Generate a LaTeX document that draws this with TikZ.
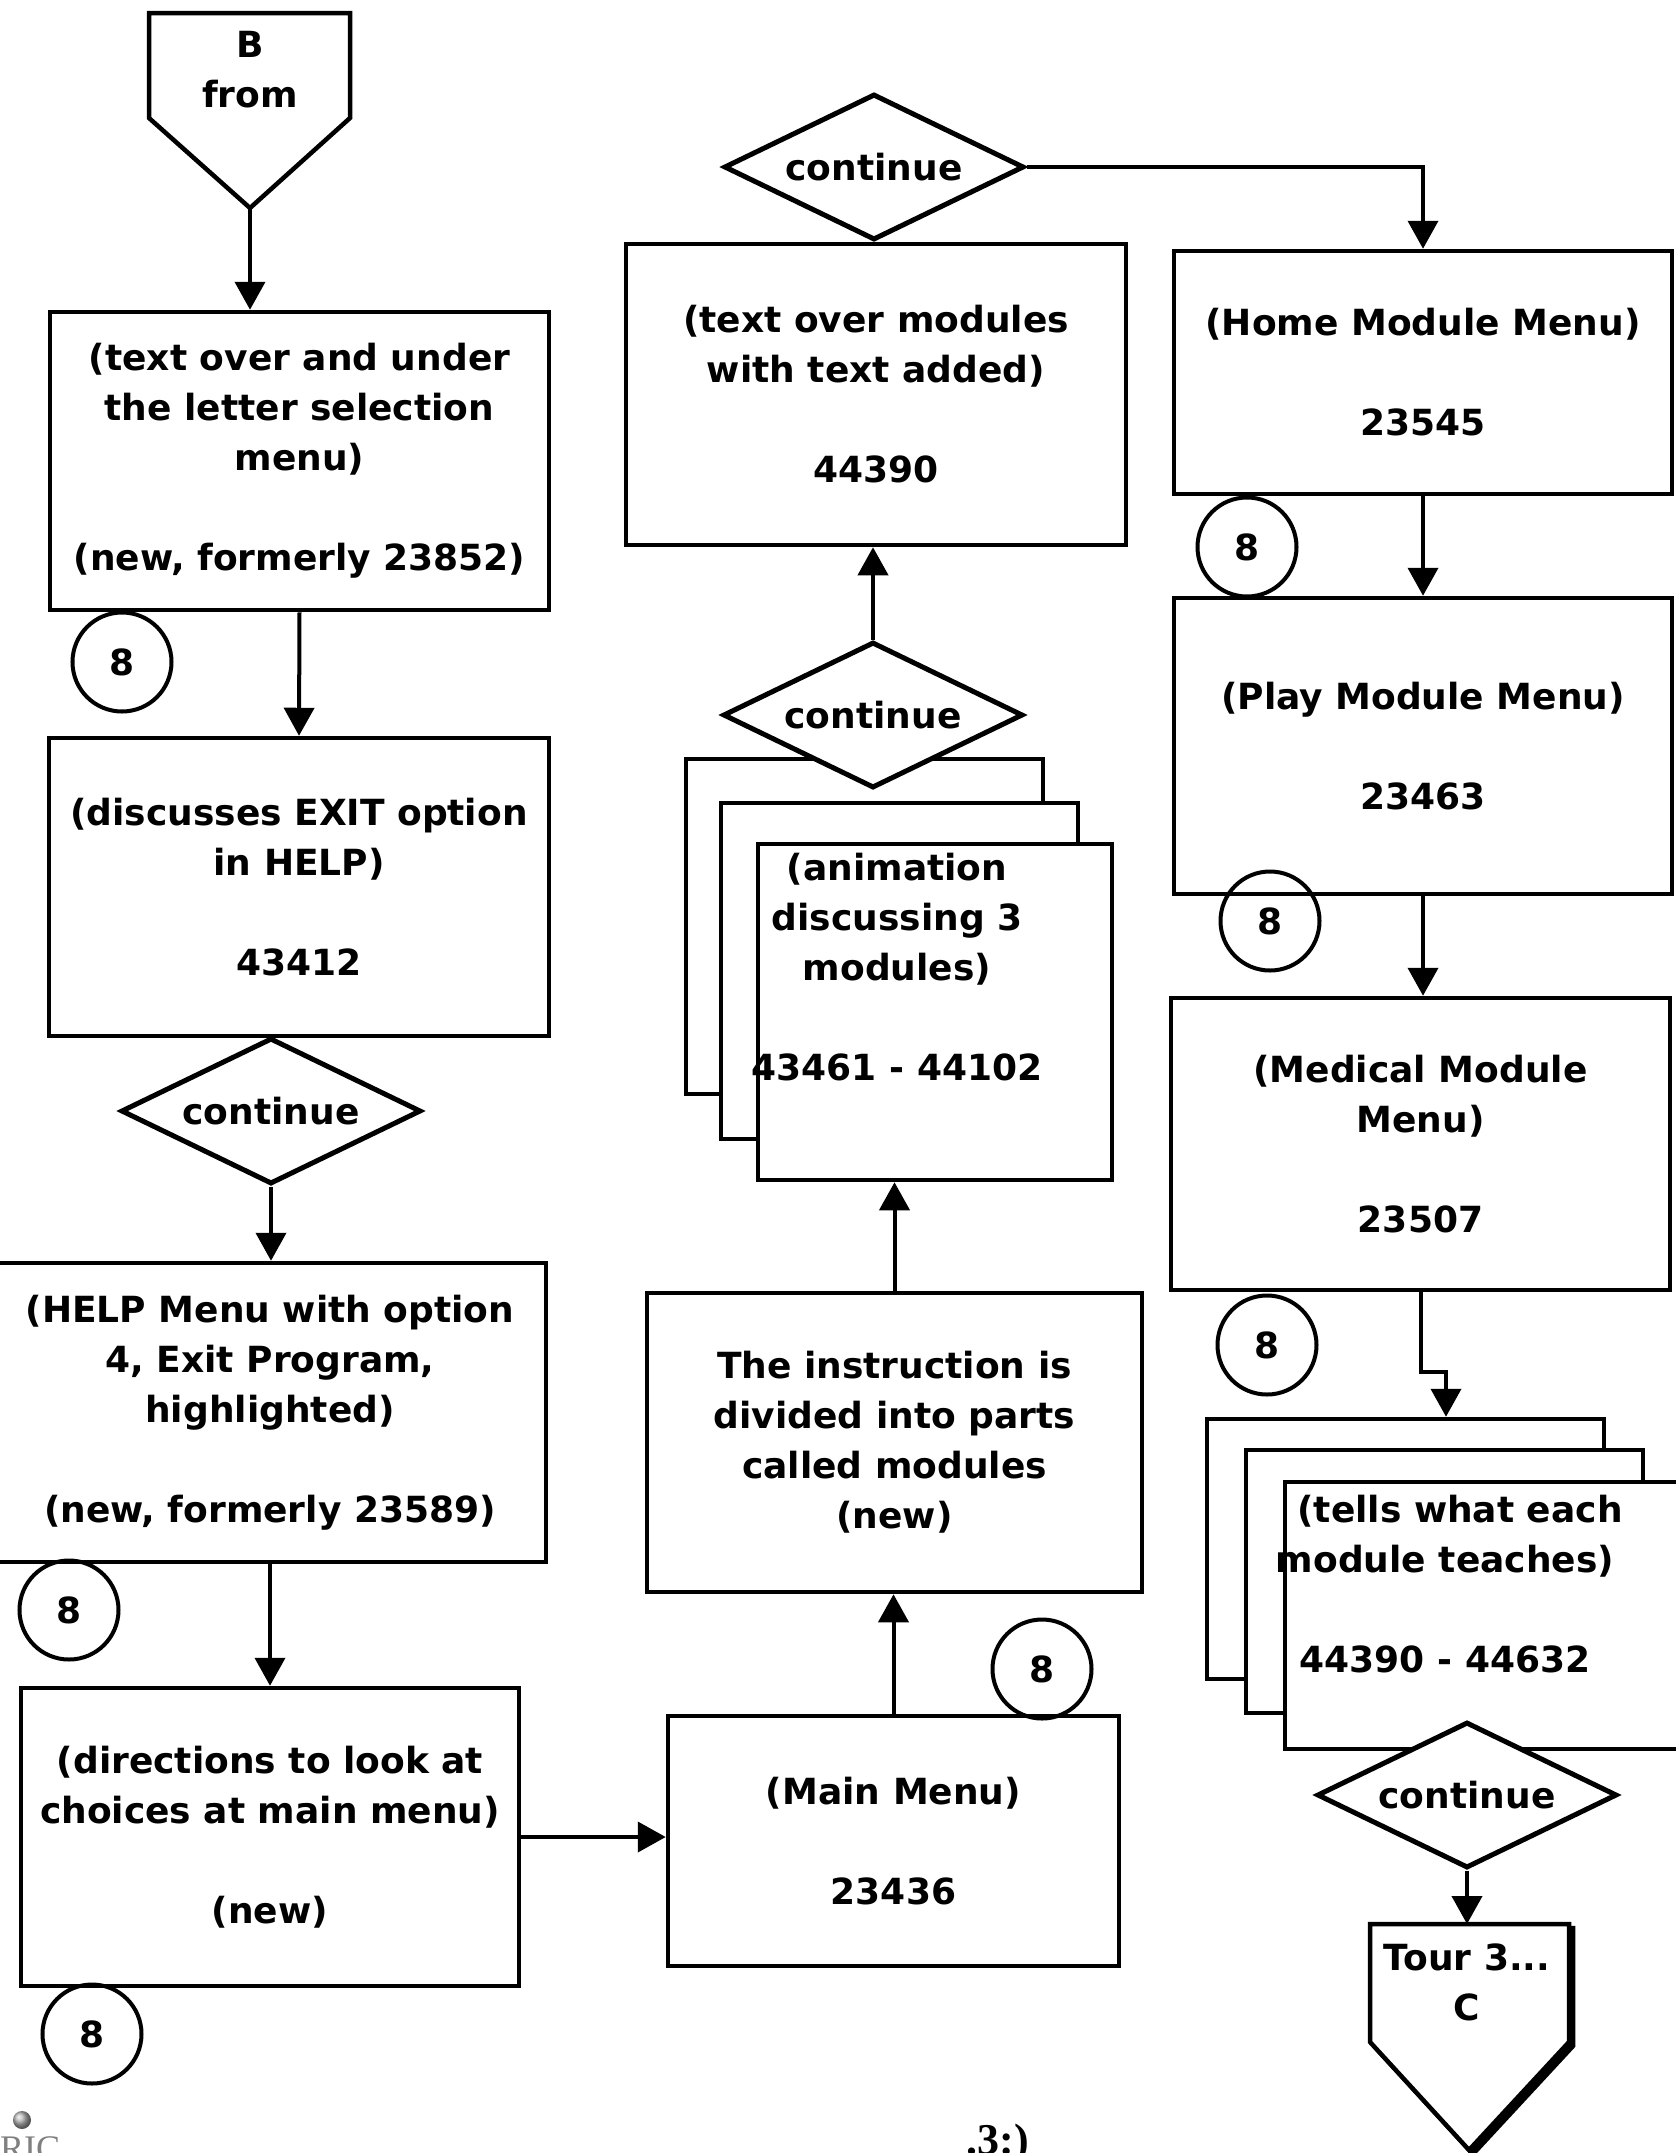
\documentclass[tikz,border=0pt]{standalone}
\usepackage{fontspec}
\setmainfont{DejaVu Sans}
\newfontfamily\pagefont{Liberation Serif}
\usetikzlibrary{arrows.meta,shapes.geometric,calc}

\newcommand\chartfont{\bfseries\fontsize{36}{50}\selectfont}

\tikzset{
  lbl/.style={font=\chartfont, align=center, inner sep=0pt},
  card/.style={draw, line width=4.5pt, fill=white, rectangle, inner sep=0pt,
               align=center, font=\chartfont},
  choice/.style={draw, diamond, aspect=2, line width=5pt, fill=white, inner sep=0pt,
                 minimum width=300pt, minimum height=146pt, font=\chartfont},
  ref8/.style={draw, circle, line width=4pt, minimum size=99pt, inner sep=0pt,
               font=\chartfont},
  flow/.style={line width=4pt, line join=miter, -{Triangle[length=28pt,width=30pt]}},
  outline/.style={line width=4.5pt, line join=miter}
}

\begin{document}
\begin{tikzpicture}[x=1pt,y=-1pt]
\useasboundingbox (0,0) rectangle (1676,2153);

% ---------- entry connector B ----------
\draw[outline, fill=white] (149,13) -- (350,13) -- (350,118) -- (250,208) -- (149,118) -- cycle;
\node[lbl] (btext) at (250,70) {B\\from};
\coordinate (btip) at (250,208);

% ---------- left column ----------
\node[card, minimum width=499pt, minimum height=298pt] (box1) at (299.5,461)
  {(text over and under\\the letter selection\\menu)\\[50pt](new, formerly 23852)};
\node[card, minimum width=500pt, minimum height=298pt] (box2) at (299,887)
  {(discusses EXIT option\\in HELP)\\[50pt]43412};
\node[choice] (d1) at (271,1111) {continue};
\node[card, minimum width=552pt, minimum height=299pt] (box3) at (270,1412.5)
  {(HELP Menu with option\\4, Exit Program,\\highlighted)\\[50pt](new, formerly 23589)};
\node[card, minimum width=498pt, minimum height=298pt] (box4) at (270,1837)
  {(directions to look at\\choices at main menu)\\[50pt](new)};

\node[ref8] (c1) at (122,662) {8};
\node[ref8] (c2) at (69,1610) {8};
\node[ref8] (c3) at (92,2034) {8};

% ---------- middle column ----------
\node[card, minimum width=451pt, minimum height=250pt] (main) at (893.5,1841)
  {(Main Menu)\\[50pt]23436};
\node[ref8] (c4) at (1042,1669) {8};
\node[card, minimum width=495pt, minimum height=299pt] (instr) at (894.5,1442.5)
  {The instruction is\\divided into parts\\called modules\\(new)};

\node[card, minimum width=357pt, minimum height=335pt] (back1) at (864.5,926.5) {};
\node[card, minimum width=357pt, minimum height=336pt] (mid1) at (899.5,971) {};
\node[card, minimum width=354pt, minimum height=336pt] (anim) at (935,1012) {};
\node[lbl] (animtext) at (897,967)
  {(animation\\discussing 3\\modules)\\[50pt]43461 - 44102};
\node[choice] (d2) at (873,715) {continue};

\node[card, minimum width=500pt, minimum height=301pt] (tover) at (876,394.5)
  {(text over modules\\with text added)\\[50pt]44390};
\node[choice] (d3) at (874,167) {continue};

% ---------- right column ----------
\node[card, minimum width=498pt, minimum height=243pt] (home) at (1423,372.5)
  {(Home Module Menu)\\[50pt]23545};
\node[card, minimum width=498pt, minimum height=296pt] (play) at (1423,746)
  {(Play Module Menu)\\[50pt]23463};
\node[card, minimum width=499pt, minimum height=292pt] (med) at (1420.5,1144)
  {(Medical Module\\Menu)\\[50pt]23507};

\node[ref8] (c5) at (1247,547) {8};
\node[ref8] (c6) at (1270,921) {8};
\node[ref8] (c7) at (1267,1345) {8};

\node[card, minimum width=397pt, minimum height=260pt] (back2) at (1405.5,1549) {};
\node[card, minimum width=397pt, minimum height=263pt] (mid2) at (1444.5,1581.5) {};
\node[card, minimum width=415pt, minimum height=267pt] (front2) at (1492.5,1615.5) {};
\node[lbl] (teachtext) at (1445,1584)
  {\hspace*{30pt}(tells what each\\module teaches)\\[50pt]44390 - 44632};
\node[choice] (d4) at (1467,1795) {continue};

% exit connector C, with its drop shadow
\draw[outline, fill=black, shift={(4,4)}] (1370,1924) -- (1569,1924) -- (1569,2042) -- (1469,2150) -- (1370,2042) -- cycle;
\draw[outline, fill=white] (1370,1924) -- (1569,1924) -- (1569,2042) -- (1469,2150) -- (1370,2042) -- cycle;
\node[lbl] (ttext) at (1467,1982) {Tour 3...\\C};
\coordinate (ttop) at (1467,1924);

% ---------- connectors ----------
\draw[flow] (btip) -- (btip |- box1.north);
\draw[flow] (box1.south) -- (box2.north);
\draw[flow] (d1.south) -- (d1.south |- box3.north);
\draw[flow] (box3.south) -- (box4.north);
\draw[flow] (box4.east) -- (box4.east -| main.west);
\draw[flow] (main.north) -- (main.north |- instr.south);
\draw[flow] (instr.north) -- (instr.north |- anim.south);
\draw[flow] (d2.north) -- (d2.north |- tover.south);
\draw[flow] (d3.east) -| (home.north);
\draw[flow] (home.south) -- (play.north);
\draw[flow] (play.south) -- (play.south |- med.north);
\coordinate (bend) at (1446,1372);
\draw[flow] (med.south) |- (bend) -- (bend |- back2.north);
\draw[flow] (d4.south) -- (ttop);

% ---------- page furniture ----------
\node[font=\pagefont\bfseries\fontsize{44}{44}\selectfont, anchor=base, inner sep=0pt] (pnum) at (998,2154) {.3:)};
\shade[ball color=gray!60] (22,2120) circle (9);
\node[font=\pagefont\fontsize{36}{36}\selectfont, text=gray, anchor=base west, inner sep=0pt] (logo) at (-22,2160) {ERIC};
\end{tikzpicture}
\end{document}
